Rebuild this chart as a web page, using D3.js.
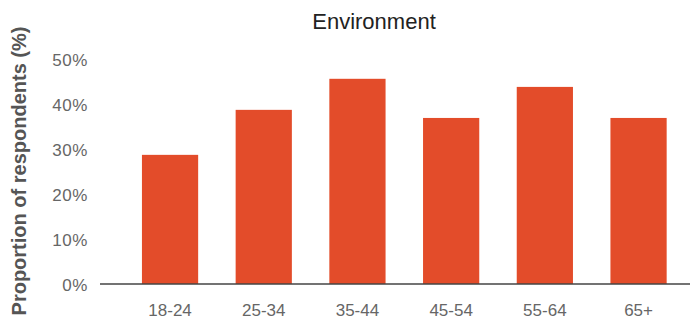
<!DOCTYPE html>
<html>
<head>
<meta charset="utf-8">
<script src="https://cdn.jsdelivr.net/npm/d3@7"></script>
<style>
  html, body { margin: 0; padding: 0; background: #fff; }
  svg { display: block; }
</style>
</head>
<body>
<svg id="chart" width="690" height="323"></svg>
<script>
const categories = ["18-24", "25-34", "35-44", "45-54", "55-64", "65+"];
const values = [28.7, 38.7, 45.6, 36.9, 43.8, 36.9];
const yTicks = [0, 10, 20, 30, 40, 50];
const title = "Environment";
const yTitle = "Proportion of respondents (%)";

const svg = d3.select("#chart");
const W = 690, H = 323;
const baseY = 284, topY = 59;
const font = "'Liberation Sans', Arial, sans-serif";

const x = d3.scaleBand().domain(categories).range([123.2, 685.4])
  .paddingInner(0.4).paddingOuter(0.2);
const y = d3.scaleLinear().domain([0, 50]).range([baseY, topY]);

// bars
svg.append("g").selectAll("rect").data(values).join("rect")
  .attr("x", (d, i) => x(categories[i]))
  .attr("width", x.bandwidth())
  .attr("y", d => y(d))
  .attr("height", d => y(0) - y(d))
  .attr("fill", "#E34C2A");

// y axis (labels only)
const yAxis = d3.axisLeft(y).tickValues(yTicks).tickFormat(d => d + "%").tickSize(0).tickPadding(0);
const gy = svg.append("g").attr("transform", "translate(88,0)").call(yAxis);
gy.select(".domain").remove();
gy.selectAll("text").attr("font-family", font).attr("font-size", 17)
  .attr("fill", "#666").attr("dy", "0.36em").attr("letter-spacing", "0.6px");

// x axis
const xAxis = d3.axisBottom(x).tickSize(0).tickPadding(0);
const gx = svg.append("g").attr("transform", `translate(0,${baseY})`).call(xAxis);
gx.select(".domain").remove();
gx.selectAll("text").attr("font-family", font).attr("font-size", 17)
  .attr("fill", "#666").attr("y", 32).attr("dy", 0);

// baseline
svg.append("line").attr("x1", 100).attr("x2", W).attr("y1", baseY).attr("y2", baseY)
  .attr("stroke", "#444").attr("stroke-width", 1.5);

// title
svg.append("text").attr("x", 374).attr("y", 29).attr("text-anchor", "middle")
  .attr("font-family", font).attr("font-size", 22).attr("fill", "#222").text(title);

// y title
svg.append("text").attr("transform", "translate(26,171) rotate(-90)")
  .attr("text-anchor", "middle").attr("font-family", font).attr("font-size", 20)
  .attr("font-weight", "bold").attr("fill", "#555").text(yTitle);
</script>
</body>
</html>
